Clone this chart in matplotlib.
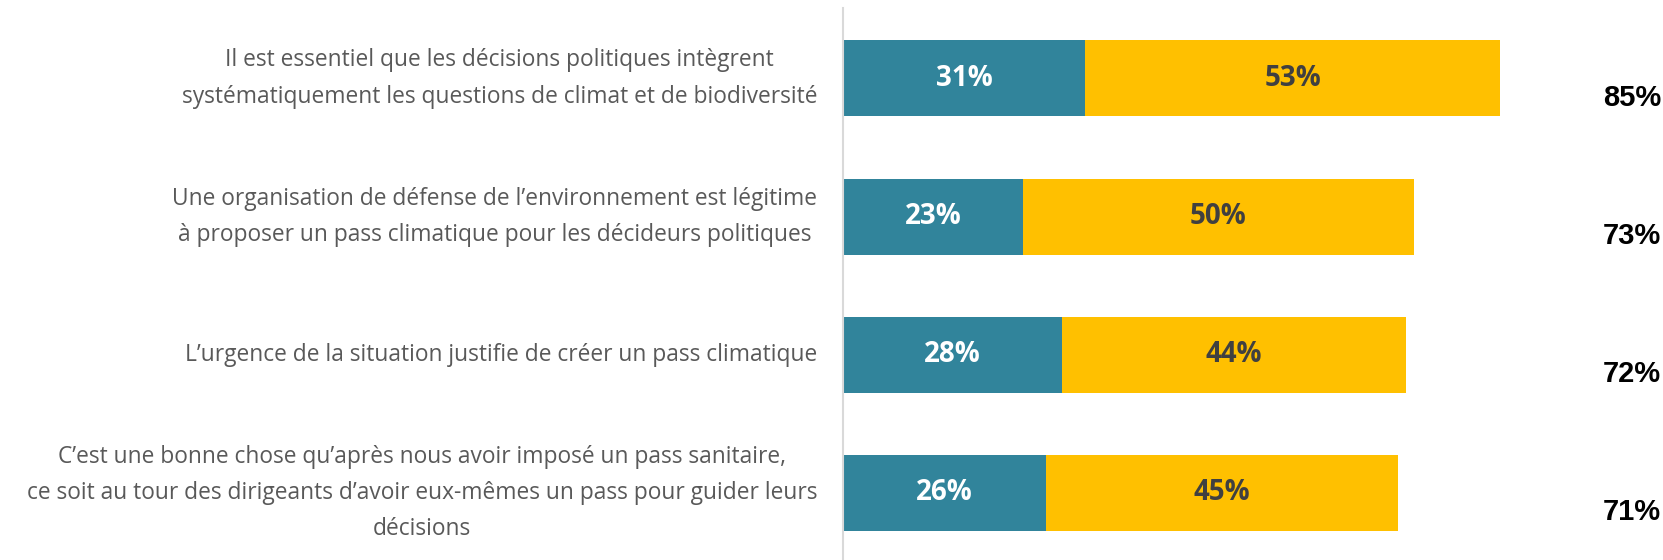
import matplotlib.pyplot as plt

categories = [
    "Il est essentiel que les décisions politiques intègrent\nsystématiquement les questions de climat et de biodiversité",
    "Une organisation de défense de l’environnement est légitime\nà proposer un pass climatique pour les décideurs politiques",
    "L’urgence de la situation justifie de créer un pass climatique",
    "C’est une bonne chose qu’après nous avoir imposé un pass sanitaire,\nce soit au tour des dirigeants d’avoir eux-mêmes un pass pour guider leurs\ndécisions",
]
tout_a_fait = [31, 23, 28, 26]
plutot = [53, 50, 44, 45]
totals = [85, 73, 72, 71]

TEAL = "#31849B"
GOLD = "#FFC000"

W, H = 1663, 560
fig = plt.figure(figsize=(W / 100, H / 100), dpi=100)
left = 843 / W
right = 1625 / W
ax = fig.add_axes([left, 0.0, right - left, 1 - 8 / H])

y = list(range(len(categories)))
bh = 0.55
ax.barh(y, tout_a_fait, height=bh, color=TEAL, edgecolor="none")
ax.barh(y, plutot, left=tout_a_fait, height=bh, color=GOLD, edgecolor="none")

ax.set_xlim(0, 100)
ax.set_ylim(3.485, -0.51)

for i in y:
    a, b = tout_a_fait[i], plutot[i]
    ax.text(a / 2, i, f"{a}%", ha="center", va="center", color="white",
            fontsize=20, fontweight="bold", family="Open Sans")
    ax.text(a + b / 2, i, f"{b}%", ha="center", va="center", color="#404040",
            fontsize=20, fontweight="bold", family="Open Sans")
    ax.text(104.6, i + 0.14, f"{totals[i]}%", ha="right", va="center", color="black",
            fontsize=21, fontweight="bold", family="Liberation Sans", clip_on=False)
    ax.text(-3.3, i, categories[i], ha="right", va="center", multialignment="center",
            color="#595959", fontsize=16.4, family="Open Sans", linespacing=1.68,
            clip_on=False)

for s in ["top", "right", "bottom"]:
    ax.spines[s].set_visible(False)
ax.spines["left"].set_color("#D9D9D9")
ax.spines["left"].set_linewidth(1.5)
ax.set_xticks([])
ax.set_yticks([])

fig.savefig("out.png", dpi=100)
